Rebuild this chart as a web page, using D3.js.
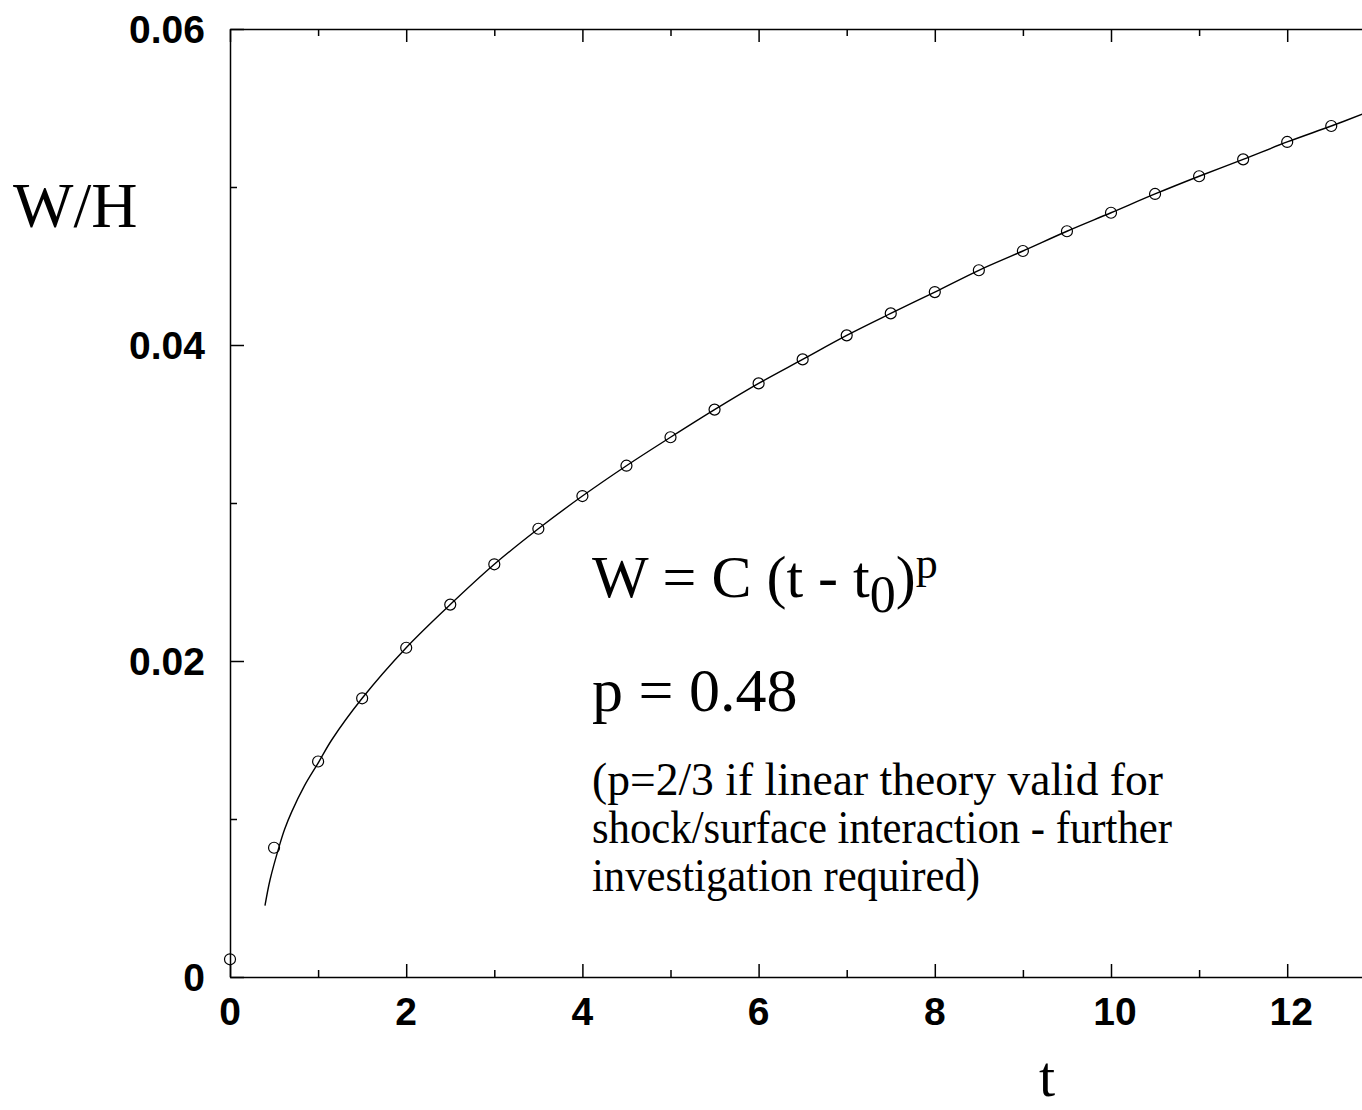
<!DOCTYPE html>
<html>
<head>
<meta charset="utf-8">
<script src="https://cdn.jsdelivr.net/npm/d3@7"></script>
<style>
  body { margin: 0; background: #fff; }
  .tick-label { font-family: "Liberation Sans", Arial, sans-serif; font-weight: bold; font-size: 39px; fill: #000; }
  .serif { font-family: "Liberation Serif", "Times New Roman", serif; fill: #000; }
</style>
</head>
<body>
<script>
// measured points (circles)
const tPoints = [0, 0.5, 1, 1.5, 2, 2.5, 3, 3.5, 4, 4.5, 5, 5.5, 6, 6.5, 7, 7.5, 8, 8.5, 9, 9.5, 10, 10.5, 11, 11.5, 12, 12.5];
const wPoints = [0.00112, 0.00818, 0.01364, 0.01764, 0.02084, 0.02357, 0.02612, 0.02837, 0.03044, 0.03236,
  0.03416, 0.03591, 0.03757, 0.03909, 0.04061, 0.04200, 0.04335, 0.04473, 0.04595, 0.04720,
  0.04837, 0.04956, 0.05068, 0.05175, 0.05285, 0.05386];

// fitted curve
const fitT = [0.397, 0.454, 0.56, 0.62, 0.70, 0.843, 1.01, 1.154, 1.5, 2, 2.5, 3, 3.5, 4, 4.5, 5, 5.5, 6, 6.5, 7, 7.5,
  8, 8.5, 9, 9.5, 10, 10.5, 11, 11.5, 12, 12.5, 12.86];
const fitW = [0.00451, 0.00614, 0.00830, 0.00935, 0.01045, 0.01208, 0.01363, 0.01500, 0.01764, 0.02084, 0.02357,
  0.02612, 0.02837, 0.03044, 0.03236, 0.03416, 0.03591, 0.03757, 0.03909, 0.04061, 0.04200,
  0.04335, 0.04473, 0.04595, 0.04720, 0.04837, 0.04956, 0.05068, 0.05175, 0.05285, 0.05386, 0.05462];

const xTickLabels = [0, 2, 4, 6, 8, 10, 12];
const yTickLabels = [0, 0.02, 0.04, 0.06];

const noteLines = [
  "(p=2/3 if linear theory valid for",
  "shock/surface interaction - further",
  "investigation required)"
];
const noteWidths = [571, 580, 388];

const width = 1362, height = 1110;

const svg = d3.select("body")
  .append("svg")
  .attr("width", width)
  .attr("height", height);

const x = d3.scaleLinear().domain([0, 13]).range([230, 230 + 13 * 88.1]);
const y = d3.scaleLinear().domain([0, 0.06]).range([977, 29]);

const xTicks = d3.range(0, 14, 1);
const yTicks = d3.range(0, 7, 1).map(d => d / 100);

function styleAxis(g) {
  g.select(".domain").attr("stroke", "#000").attr("stroke-width", 1.5);
  g.selectAll(".tick line").attr("stroke", "#000").attr("stroke-width", 1.5);
  g.selectAll(".tick text").remove();
}

// bottom axis, ticks pointing inward
svg.append("g")
  .attr("transform", `translate(0,${y(0)})`)
  .call(d3.axisBottom(x).tickValues(xTicks).tickSizeOuter(0))
  .call(styleAxis)
  .call(g => g.selectAll(".tick line").attr("y2", d => d % 2 === 0 ? -13 : -7));

// top axis
svg.append("g")
  .attr("transform", `translate(0,${y(0.06)})`)
  .call(d3.axisTop(x).tickValues(xTicks).tickSizeOuter(0))
  .call(styleAxis)
  .call(g => g.selectAll(".tick line").attr("y2", d => d % 2 === 0 ? 13 : 7));

// left axis
svg.append("g")
  .attr("transform", `translate(${x(0)},0)`)
  .call(d3.axisLeft(y).tickValues(yTicks).tickSizeOuter(0))
  .call(styleAxis)
  .call(g => g.selectAll(".tick line").attr("x2", d => Math.round(d * 100) % 2 === 0 ? 14 : 7));

// tick labels
svg.selectAll(".xlab")
  .data(xTickLabels)
  .join("text")
  .attr("class", "tick-label")
  .attr("x", d => x(d) + (d >= 10 ? 4 : 0))
  .attr("y", 1025)
  .attr("text-anchor", "middle")
  .text(d => d);

svg.selectAll(".ylab")
  .data(yTickLabels)
  .join("text")
  .attr("class", "tick-label")
  .attr("x", 205)
  .attr("y", d => y(d) + 14)
  .attr("text-anchor", "end")
  .text(d => d === 0 ? "0" : d.toFixed(2));

// axis titles
svg.append("text")
  .attr("class", "serif")
  .attr("x", 13)
  .attr("y", 227)
  .style("font-size", "64px")
  .text("W/H");

svg.append("text")
  .attr("class", "serif")
  .attr("x", 1047)
  .attr("y", 1096)
  .attr("text-anchor", "middle")
  .style("font-size", "58px")
  .text("t");

// fitted curve
const fit = fitT.map((t, i) => ({t: t, w: fitW[i]}));
svg.append("path")
  .datum(fit)
  .attr("fill", "none")
  .attr("stroke", "#000")
  .attr("stroke-width", 1.4)
  .attr("d", d3.line()
    .x(d => x(d.t))
    .y(d => y(d.w))
    .curve(d3.curveCatmullRom.alpha(0.5)));

// data circles
const pts = tPoints.map((t, i) => ({t: t, w: wPoints[i]}));
svg.selectAll(".pt")
  .data(pts)
  .join("circle")
  .attr("class", "pt")
  .attr("cx", d => x(d.t))
  .attr("cy", d => y(d.w))
  .attr("r", 5.5)
  .attr("fill", "none")
  .attr("stroke", "#000")
  .attr("stroke-width", 1.2);

// annotation
const eq = svg.append("text")
  .attr("class", "serif")
  .attr("x", 592)
  .attr("y", 597)
  .style("font-size", "60px");
eq.append("tspan").text("W = C (t - t");
eq.append("tspan").attr("dy", 15).style("font-size", "52px").text("0");
eq.append("tspan").attr("dy", -15).text(")");
eq.append("tspan").attr("dy", -19).style("font-size", "44px").text("p");

svg.append("text")
  .attr("class", "serif")
  .attr("x", 592)
  .attr("y", 711)
  .style("font-size", "62px")
  .text("p = 0.48");

svg.selectAll(".note")
  .data(noteLines)
  .join("text")
  .attr("class", "serif note")
  .attr("x", 592)
  .attr("y", (d, i) => 795 + i * 48)
  .attr("textLength", (d, i) => noteWidths[i])
  .attr("lengthAdjust", "spacingAndGlyphs")
  .style("font-size", "46px")
  .text(d => d);
</script>
</body>
</html>
